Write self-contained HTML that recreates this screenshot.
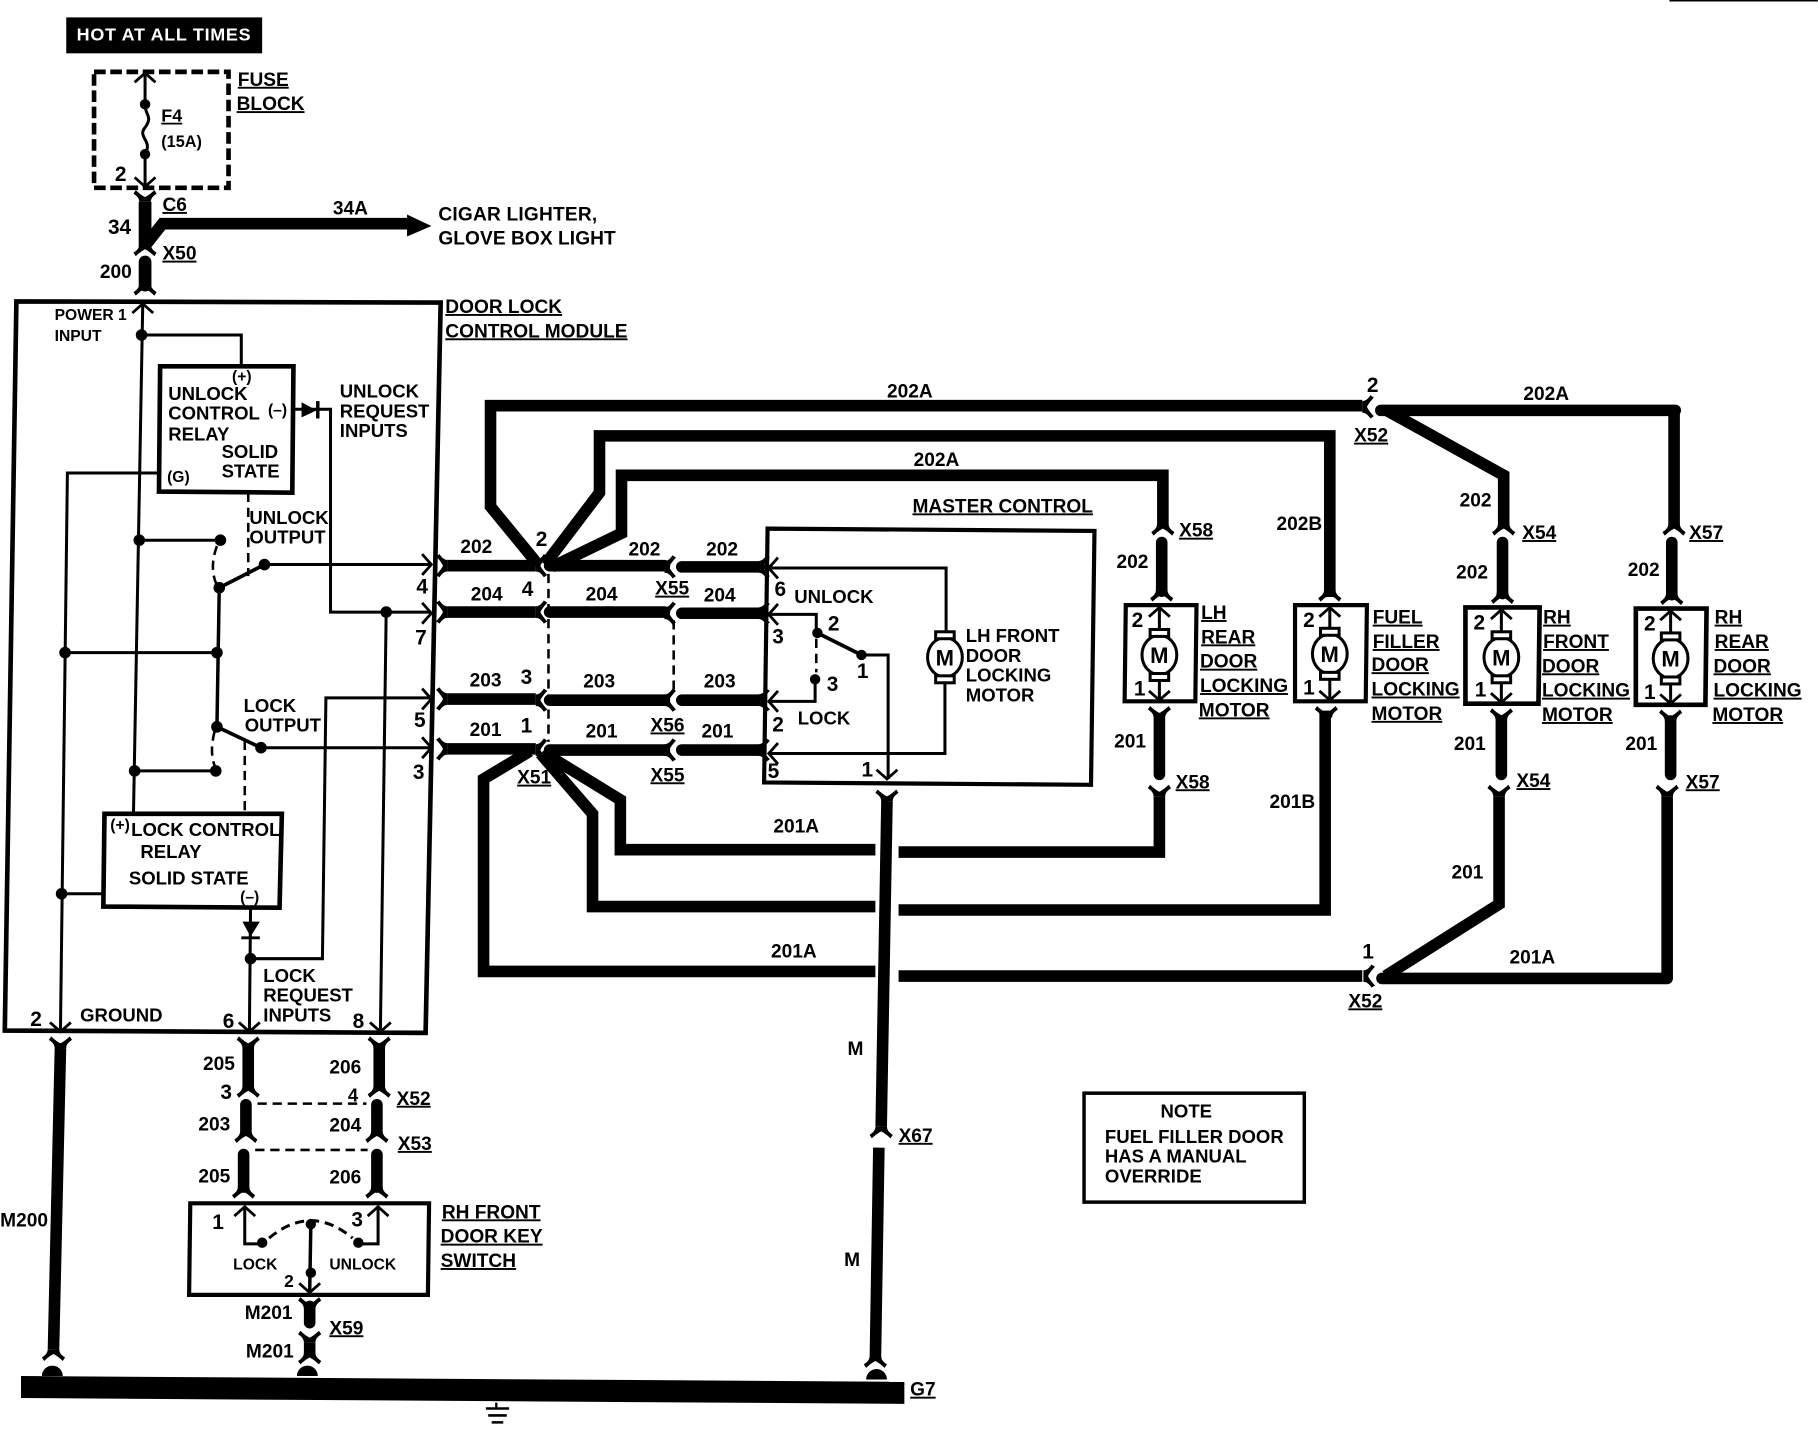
<!DOCTYPE html>
<html><head><meta charset="utf-8"><title>Door lock wiring diagram</title>
<style>
html,body{margin:0;padding:0;background:#fff;width:1818px;height:1456px;overflow:hidden}
svg{display:block}
text{font-family:"Liberation Sans",sans-serif;font-weight:bold;font-size:16.5px;fill:#000}
.n{font-size:16.5px}
.q{font-size:16px}
.p{font-size:18px}
.s{font-size:13.5px}
.u{text-decoration:underline;text-decoration-thickness:2px;text-underline-offset:3px}
.w{fill:none;stroke:#000;stroke-width:10;stroke-linejoin:miter}
.t{fill:none;stroke:#000;stroke-width:2.6}
.b{fill:none;stroke:#000;stroke-width:3.6}
.d{fill:none;stroke:#000;stroke-width:2.2;stroke-dasharray:8 5}
.c{fill:none;stroke:#000;stroke-width:2.4}
</style></head><body>
<svg xmlns="http://www.w3.org/2000/svg" width="1818" height="1456" viewBox="0 0 1568 1256">
<defs>
<path id="f" d="M0,-5 C3,-5 5,-7 7,-10 L10,-8 C7,-5 5,-2 4,0 C5,2 7,5 10,8 L7,10 C5,7 3,5 0,5 Z"/>
<path id="a" class="c" d="M-8,-9 L0,0 L-8,9"/>
<g id="m"><ellipse cx="0" cy="0" rx="15" ry="17" fill="#fff" stroke="#000" stroke-width="2.6"/><rect x="-8" y="-22" width="16" height="6" fill="#fff" stroke="#000" stroke-width="2.6"/><rect x="-8" y="16" width="16" height="6" fill="#fff" stroke="#000" stroke-width="2.6"/><text x="-8" y="7" style="font-size:19px">M</text></g>
</defs>
<rect width="1568" height="1256" fill="#fff"/>
<line x1="1440" y1="0.5" x2="1568" y2="0.5" stroke="#000" stroke-width="1.5"/>

<!-- top -->
<rect x="57" y="15" width="169" height="31" fill="#000"/>
<text x="66" y="35" style="fill:#fff;font-size:15.5px" textLength="150" lengthAdjust="spacing">HOT AT ALL TIMES</text>
<rect x="81" y="62" width="116" height="100" fill="none" stroke="#000" stroke-width="4" stroke-dasharray="10 4"/>
<path class="t" d="M125,63 V90 C125,100 132,100 125,110 C118,118 132,122 125,132 V161"/>
<use href="#a" transform="translate(125,63) rotate(-90)"/><use href="#a" transform="translate(125,161) rotate(90)"/>
<circle cx="125" cy="90" r="4.5"/><circle cx="125" cy="133" r="4.5"/>
<text x="205" y="74" class="u">FUSE</text><text x="204" y="95" class="u">BLOCK</text>
<text x="139" y="105" class="u" style="font-size:15.5px">F4</text><text x="139" y="127" class="s" style="font-size:14px">(15A)</text>
<text x="99" y="156" class="p">2</text>

<path class="w" style="stroke-width:11" d="M125,174 V214"/>
<path class="w" style="stroke-width:10" d="M125,212 L140,193 H356"/>
<polygon points="351,185 372,195 351,204"/>
<use href="#f" transform="translate(125,174) rotate(-90)"/>
<use href="#f" transform="translate(125,211) rotate(90)"/>
<path class="w" style="stroke-width:11;stroke-linecap:round" d="M125,226 V246"/>
<use href="#f" transform="translate(125,245) rotate(90)"/>
<text x="140" y="182" class="u">C6</text><text x="93" y="202" class="p">34</text><text x="287" y="185">34A</text>
<text x="378" y="190" textLength="137" lengthAdjust="spacing">CIGAR LIGHTER,</text><text x="378" y="211" textLength="153" lengthAdjust="spacing">GLOVE BOX LIGHT</text>
<text x="140" y="224" class="u">X50</text><text x="86" y="240">200</text>

<!-- module -->
<polygon points="14,260 380,261 367,891 4,889" class="b" style="stroke-width:4"/>
<text x="384" y="270" class="u">DOOR LOCK</text><text x="384" y="291" class="u">CONTROL MODULE</text>
<text x="47" y="276" class="s">POWER 1</text><text x="47" y="294" class="s">INPUT</text>
<path class="t" d="M123,262 L115,702"/><use href="#a" transform="translate(123,262) rotate(-90)"/>
<path class="t" d="M122,289 H208 V316"/>
<circle cx="122" cy="289" r="5"/><circle cx="120" cy="466" r="5"/><circle cx="116" cy="665" r="5"/>
<polygon points="138,316 253,316 252,425 137,424" class="b" style="stroke-width:4;fill:#fff"/>
<text x="145" y="345" class="q">UNLOCK</text><text x="145" y="362" class="q">CONTROL</text><text x="145" y="380" class="q">RELAY</text><text x="191" y="395" class="q">SOLID</text><text x="191" y="412" class="q">STATE</text>
<text x="144" y="416" class="s">(G)</text><text x="200" y="329" class="s">(+)</text><text x="231" y="358" class="s">(–)</text>
<path class="t" d="M253,353 H285 V528 H372 M372,602 H281 L278,827 H216"/>
<polygon points="260,347 260,360 273,354"/><line x1="274" y1="346" x2="274" y2="361" stroke="#000" stroke-width="3"/>
<text x="293" y="343" class="q">UNLOCK</text><text x="293" y="360" class="q">REQUEST</text><text x="293" y="377" class="q">INPUTS</text>
<path class="t" d="M137,408 H58 L52,890"/>
<circle cx="56" cy="563" r="5"/><circle cx="53" cy="771" r="5"/>
<path class="t" d="M56,563 H187"/><circle cx="187" cy="563" r="5"/>
<path class="t" style="stroke-width:3" d="M189,507 L187,627"/>
<path class="t" d="M120,466 H190"/><circle cx="190" cy="466" r="5"/>
<path class="d" d="M187,471 Q180,490 187,505"/>
<circle cx="189" cy="507" r="5"/>
<path class="t" style="stroke-width:3.2" d="M189,507 L228,487"/><circle cx="228" cy="487" r="5"/><path class="t" d="M228,487 H372"/>
<path class="d" d="M214,425 V497"/>
<circle cx="187" cy="627" r="5"/>
<path class="t" style="stroke-width:3.2" d="M187,627 L225,645"/><circle cx="225" cy="645" r="5"/><path class="t" d="M225,645 H372"/>
<path class="d" d="M185,631 Q180,650 186,663"/><circle cx="186" cy="665" r="5"/><path class="t" d="M186,665 H116"/>
<path class="d" d="M211,639 V702"/>
<polygon points="90,702 243,702 241,783 89,782" class="b" style="stroke-width:4;fill:#fff"/>
<text x="95" y="716" class="s">(+)</text><text x="113" y="721" class="q">LOCK CONTROL</text><text x="121" y="740" class="q">RELAY</text><text x="111" y="763" class="q">SOLID STATE</text><text x="207" y="778" class="s">(–)</text>
<path class="t" d="M53,771 H89"/>
<path class="t" d="M216,783 L215,890"/>
<polygon points="209,795 224,795 216,808"/><line x1="208" y1="809" x2="224" y2="809" stroke="#000" stroke-width="2.5"/>
<circle cx="216" cy="827" r="5"/>
<circle cx="333" cy="528" r="5"/><path class="t" d="M333,528 L328,890"/>
<use href="#a" transform="translate(372,487)"/><use href="#a" transform="translate(372,529)"/><use href="#a" transform="translate(372,603)"/><use href="#a" transform="translate(372,645)"/>
<use href="#a" transform="translate(52,890) rotate(90)"/><use href="#a" transform="translate(215,890) rotate(90)"/><use href="#a" transform="translate(328,890) rotate(90)"/>
<text x="359" y="512" class="p">4</text><text x="358" y="556" class="p">7</text><text x="357" y="627" class="p">5</text><text x="356" y="672" class="p">3</text>
<text x="26" y="885" class="p">2</text><text x="69" y="881" class="q">GROUND</text><text x="192" y="887" class="p">6</text><text x="304" y="887" class="p">8</text>
<text x="227" y="847" class="q">LOCK</text><text x="227" y="864" class="q">REQUEST</text><text x="227" y="881" class="q">INPUTS</text>
<text x="215" y="452" class="q">UNLOCK</text><text x="215" y="469" class="q">OUTPUT</text><text x="210" y="614" class="q">LOCK</text><text x="211" y="631" class="q">OUTPUT</text>

<!-- horizontal wires -->
<path class="w" d="M386,488 H462 M386,528 H462 M386,603 H462 M386,646 H462"/>
<path class="w" style="stroke-linecap:round" d="M474,488 H573 M474,528 H573 M474,604 H573 M474,647 H573 M588,489 H655 M588,529 H655 M588,604 H655 M588,647 H655"/>
<use href="#f" transform="translate(386,488) rotate(180)"/><use href="#f" transform="translate(386,528) rotate(180)"/><use href="#f" transform="translate(386,603) rotate(180)"/><use href="#f" transform="translate(386,646) rotate(180)"/>
<use href="#f" transform="translate(462,488)"/><use href="#f" transform="translate(462,528)"/><use href="#f" transform="translate(462,604)"/><use href="#f" transform="translate(462,647)"/>
<use href="#f" transform="translate(573,489)"/><use href="#f" transform="translate(573,529)"/><use href="#f" transform="translate(573,604)"/><use href="#f" transform="translate(573,647)"/>
<use href="#f" transform="translate(654,489)"/><use href="#f" transform="translate(654,529)"/><use href="#f" transform="translate(654,604)"/><use href="#f" transform="translate(654,647)"/>
<path class="d" d="M473,495 V640 M581,535 V597"/>

<!-- long wires -->
<path class="w" d="M464,487 L423,437 V350 H1175"/>
<path class="w" style="stroke-linecap:round" d="M1191,354 H1445"/><path class="w" d="M1444,354 V452"/>
<use href="#f" transform="translate(1175,351)"/>
<path class="w" d="M1196,354 L1297,410 V452"/>
<path class="w" d="M470,487 L517,425 V376 H1147 V515"/>
<path class="w" d="M476,489 L536,460 V410 H1003 V452"/>
<path class="w" d="M470,650 L535,690 V733 H755 M775,735 H1000 V687"/>
<path class="w" d="M466,650 L511,702 V782 H755 M775,785 H1143 V613"/>
<path class="w" d="M457,648 L417,672 V838 H755 M775,842 H1175"/>
<use href="#f" transform="translate(1176,842)"/>
<path class="w" style="stroke-linecap:round" d="M1192,844 H1438"/><path class="w" d="M1438,844 V687"/>
<path class="w" d="M1195,842 L1293,780 V687"/>
<path class="w" d="M765,691 L760,972 M758,990 L755,1172"/>
<use href="#f" transform="translate(765,691) rotate(-90)"/>
<use href="#f" transform="translate(760,972) rotate(90)"/>

<!-- vertical connectors top -->
<use href="#f" transform="translate(1003,452) rotate(90)"/><use href="#f" transform="translate(1297,452) rotate(90)"/><use href="#f" transform="translate(1444,452) rotate(90)"/>
<path class="w" style="stroke-linecap:round" d="M1002,468 V510 M1296,468 V512 M1442,468 V513"/>
<use href="#f" transform="translate(1002,509) rotate(90)"/><use href="#f" transform="translate(1147,509) rotate(90)"/><use href="#f" transform="translate(1296,511) rotate(90)"/><use href="#f" transform="translate(1442,512) rotate(90)"/>
<path class="w" d="M1147,510 V515"/>
<!-- below motors -->
<use href="#f" transform="translate(1000,619) rotate(-90)"/><use href="#f" transform="translate(1144,619) rotate(-90)"/><use href="#f" transform="translate(1295,621) rotate(-90)"/><use href="#f" transform="translate(1441,622) rotate(-90)"/>
<path class="w" style="stroke-linecap:round" d="M1000,620 V668 M1295,622 V668 M1441,622 V668"/>
<use href="#f" transform="translate(1000,687) rotate(-90)"/><use href="#f" transform="translate(1293,687) rotate(-90)"/><use href="#f" transform="translate(1438,687) rotate(-90)"/>

<!-- motors -->
<g fill="none"><polygon class="b" points="971,522 1032,522 1031,605 970,605"/><polygon class="b" points="1117,522 1179,522 1178,605 1117,605"/><polygon class="b" style="stroke-width:4" points="1264,524 1328,524 1327,607 1264,607"/><polygon class="b" style="stroke-width:4" points="1411,525 1472,525 1471,608 1411,608"/></g>
<path class="t" d="M1000,524 V604 M1147,524 V604 M1295,526 V606 M1441,527 V607"/>
<use href="#m" x="1000" y="565"/><use href="#m" x="1147" y="564"/><use href="#m" x="1295" y="567"/><use href="#m" x="1441" y="568"/>
<use href="#a" transform="translate(1000,524) rotate(-90)"/><use href="#a" transform="translate(1000,604) rotate(90)"/>
<use href="#a" transform="translate(1147,524) rotate(-90)"/><use href="#a" transform="translate(1147,604) rotate(90)"/>
<use href="#a" transform="translate(1295,526) rotate(-90)"/><use href="#a" transform="translate(1295,606) rotate(90)"/>
<use href="#a" transform="translate(1441,527) rotate(-90)"/><use href="#a" transform="translate(1441,607) rotate(90)"/>
<text x="976" y="541" class="p">2</text><text x="978" y="600" class="p">1</text><text x="1124" y="541" class="p">2</text><text x="1124" y="599" class="p">1</text><text x="1271" y="543" class="p">2</text><text x="1272" y="601" class="p">1</text><text x="1418" y="544" class="p">2</text><text x="1418" y="603" class="p">1</text>
<text x="1036" y="534" class="u">LH</text><text x="1036" y="555" class="u">REAR</text><text x="1035" y="576" class="u">DOOR</text><text x="1035" y="597" class="u">LOCKING</text><text x="1034" y="618" class="u">MOTOR</text>
<text x="1184" y="538" class="u">FUEL</text><text x="1184" y="559" class="u">FILLER</text><text x="1183" y="579" class="u">DOOR</text><text x="1183" y="600" class="u">LOCKING</text><text x="1183" y="621" class="u">MOTOR</text>
<text x="1331" y="538" class="u">RH</text><text x="1331" y="559" class="u">FRONT</text><text x="1330" y="580" class="u">DOOR</text><text x="1330" y="601" class="u">LOCKING</text><text x="1330" y="622" class="u">MOTOR</text>
<text x="1479" y="538" class="u">RH</text><text x="1479" y="559" class="u">REAR</text><text x="1478" y="580" class="u">DOOR</text><text x="1478" y="601" class="u">LOCKING</text><text x="1477" y="622" class="u">MOTOR</text>

<!-- master -->
<polygon points="662,456 944,458 941,677 659,675" class="b"/>
<text x="787" y="442" class="u">MASTER CONTROL</text>
<path class="t" d="M663,490 H816 V545 M815,590 V650 H663"/>
<use href="#m" x="815" y="567"/>
<path class="t" d="M663,530 H704 V546"/>
<circle cx="705" cy="546" r="4.5"/><circle cx="743" cy="565" r="4.5"/><circle cx="703" cy="586" r="4.5"/>
<path class="t" style="stroke-width:3.2" d="M705,546 L743,565"/>
<path class="t" d="M743,565 H766 V672"/>
<path class="d" d="M704,551 V580"/>
<path class="t" d="M703,586 V605 H663"/>
<use href="#a" transform="translate(663,490) rotate(180)"/><use href="#a" transform="translate(663,530) rotate(180)"/><use href="#a" transform="translate(663,605) rotate(180)"/><use href="#a" transform="translate(663,650) rotate(180)"/>
<use href="#a" transform="translate(765,672) rotate(90)"/>
<text x="668" y="514" class="p">6</text><text x="685" y="520" class="q">UNLOCK</text><text x="714" y="544" class="p">2</text><text x="666" y="555" class="p">3</text><text x="739" y="585" class="p">1</text><text x="713" y="596" class="p">3</text><text x="688" y="625" class="q">LOCK</text><text x="666" y="631" class="p">2</text><text x="662" y="671" class="p">5</text><text x="743" y="670" class="p">1</text>
<text x="833" y="554" class="q">LH FRONT</text><text x="833" y="571" class="q">DOOR</text><text x="833" y="588" class="q">LOCKING</text><text x="833" y="605" class="q">MOTOR</text>

<!-- wire labels -->
<text x="397" y="477">202</text><text x="462" y="471" class="p">2</text><text x="542" y="479">202</text><text x="609" y="479">202</text>
<text x="565" y="513" class="u">X55</text><text x="406" y="518">204</text><text x="450" y="514" class="p">4</text><text x="505" y="518">204</text><text x="607" y="519">204</text>
<text x="405" y="592">203</text><text x="449" y="590" class="p">3</text><text x="503" y="593">203</text><text x="607" y="593">203</text><text x="561" y="631" class="u">X56</text>
<text x="405" y="635">201</text><text x="449" y="632" class="p">1</text><text x="505" y="636">201</text><text x="605" y="636">201</text><text x="446" y="676" class="u">X51</text><text x="561" y="674" class="u">X55</text>
<text x="765" y="343">202A</text><text x="788" y="402">202A</text><text x="1179" y="338" class="p">2</text><text x="1168" y="381" class="u">X52</text><text x="1314" y="345">202A</text>
<text x="1101" y="457">202B</text><text x="1259" y="437">202</text><text x="1313" y="465" class="u">X54</text><text x="1457" y="465" class="u">X57</text><text x="1256" y="499">202</text><text x="1404" y="497">202</text><text x="1017" y="463" class="u">X58</text><text x="963" y="490">202</text>
<text x="961" y="645">201</text><text x="1014" y="680" class="u">X58</text><text x="1095" y="697">201B</text><text x="1254" y="647">201</text><text x="1308" y="679" class="u">X54</text><text x="1402" y="647">201</text><text x="1454" y="680" class="u">X57</text>
<text x="667" y="718">201A</text><text x="1252" y="758">201</text><text x="665" y="826">201A</text><text x="1175" y="827" class="p">1</text><text x="1163" y="869" class="u">X52</text><text x="1302" y="831">201A</text>
<text x="731" y="910">M</text><text x="728" y="1092">M</text><text x="775" y="985" class="u">X67</text>

<!-- lower wires -->
<path class="w" d="M214,904 V938 M327,904 V938 M52,904 L46,1164"/>
<path class="w" style="stroke-linecap:round" d="M267,1127 V1141"/>
<use href="#f" transform="translate(214,904) rotate(-90)"/><use href="#f" transform="translate(327,904) rotate(-90)"/><use href="#f" transform="translate(52,904) rotate(-90)"/><use href="#f" transform="translate(267,1129) rotate(-90)"/>
<use href="#f" transform="translate(214,937) rotate(90)"/><use href="#f" transform="translate(327,937) rotate(90)"/>
<path class="w" style="stroke-linecap:round" d="M212,953 V975 M325,953 V975"/>
<path class="w" style="stroke-linecap:round" d="M210,996 V1024 M325,996 V1024"/>
<use href="#f" transform="translate(212,976) rotate(90)"/><use href="#f" transform="translate(325,976) rotate(90)"/>
<use href="#f" transform="translate(210,1024) rotate(90)"/><use href="#f" transform="translate(325,1024) rotate(90)"/>
<path class="d" d="M222,952 H316 M220,992 H317"/>
<text x="175" y="923">205</text><text x="190" y="948" class="p">3</text><text x="284" y="926">206</text><text x="300" y="950" style="font-size:16px">4</text><text x="342" y="953" class="u">X52</text>
<text x="171" y="975">203</text><text x="284" y="976">204</text><text x="343" y="992" class="u">X53</text><text x="171" y="1020">205</text><text x="284" y="1021">206</text>
<polygon class="b" points="164,1038 370,1038 369,1117 163,1117" style="stroke-width:3.6"/>
<path class="t" d="M211,1041 V1073 H226 M326,1041 V1073 H309"/>
<use href="#a" transform="translate(211,1041) rotate(-90)"/><use href="#a" transform="translate(326,1041) rotate(-90)"/>
<circle cx="226" cy="1072" r="4.5"/><circle cx="309" cy="1072" r="4.5"/><circle cx="268" cy="1056" r="4.5"/><circle cx="268" cy="1098" r="4.5"/>
<path class="d" style="stroke-width:2.6" d="M232,1068 Q268,1038 304,1068"/>
<path class="t" style="stroke-width:3" d="M268,1056 L267,1115"/>
<use href="#a" transform="translate(267,1115) rotate(90)"/>
<text x="183" y="1060" class="p">1</text><text x="303" y="1058" class="p">3</text><text x="201" y="1095" class="s">LOCK</text><text x="284" y="1095" class="s">UNLOCK</text><text x="245" y="1110" style="font-size:15px">2</text>
<text x="381" y="1051" class="u">RH FRONT</text><text x="380" y="1072" class="u">DOOR KEY</text><text x="380" y="1093" class="u">SWITCH</text>
<use href="#f" transform="translate(267,1158) rotate(-90)"/>
<path class="w" d="M267,1158 V1168"/>
<text x="211" y="1138">M201</text><text x="212" y="1171">M201</text><text x="284" y="1151" class="u">X59</text><text x="0" y="1058">M200</text>
<use href="#f" transform="translate(46,1164) rotate(90)"/><use href="#f" transform="translate(267,1167) rotate(90)"/><use href="#f" transform="translate(755,1170) rotate(90)"/>
<path d="M36,1187 a9,9 0 0 1 18,0 Z M256,1187 a9,9 0 0 1 18,0 Z M747,1190 a9,9 0 0 1 18,0 Z"/>

<!-- bus -->
<polygon points="18,1187 780,1192 780,1211 18,1206"/>
<text x="785" y="1204" class="u">G7</text>
<path d="M428,1210 V1214" stroke="#000" stroke-width="2"/>
<path d="M419,1215 H439 M421,1221 H437 M424,1227 H434" stroke="#000" stroke-width="2.2"/>

<!-- note -->
<rect x="935" y="943" width="190" height="94" fill="none" stroke="#000" stroke-width="3"/>
<text x="1001" y="964" class="q">NOTE</text><text x="953" y="986" class="q">FUEL FILLER DOOR</text><text x="953" y="1003" class="q">HAS A MANUAL</text><text x="953" y="1020" class="q">OVERRIDE</text>
</svg>
</body></html>
